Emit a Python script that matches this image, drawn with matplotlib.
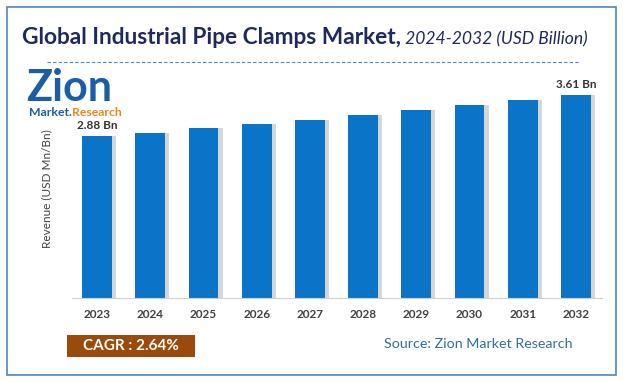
import matplotlib.pyplot as plt
from matplotlib.patches import Rectangle

# data
years = ["2023", "2024", "2025", "2026", "2027", "2028", "2029", "2030", "2031", "2032"]
revenue = [2.88, 2.93, 3.02, 3.09, 3.17, 3.25, 3.34, 3.43, 3.52, 3.61]
first_label = "2.88 Bn"
last_label = "3.61 Bn"
cagr_text = "CAGR : 2.64%"
source_text = "Source: Zion Market Research"

plt.rcParams['font.family'] = ['Lato', 'DejaVu Sans']

fig = plt.figure(figsize=(6.23, 3.82), dpi=100)
fig.patch.set_facecolor("white")

# outer border
fig.patches.append(Rectangle((7/623, 7/382), 609/623, 368/382, transform=fig.transFigure,
                             fill=False, edgecolor="#4a86c5", lw=1.2))

# title
t1 = fig.text(22/623, 1-37/382, "Global Industrial Pipe Clamps Market,", fontsize=16.3,
              fontweight="bold", color="#1f2a5c", ha="left", va="center")
fig.add_artist(plt.Annotation(" 2024-2032 (USD Billion)", xy=(1, 0), xycoords=t1,
                              fontsize=12.6, style="italic", color="#1f2a5c",
                              ha="left", va="bottom"))
fig.add_artist(plt.Line2D([47/623, 578/623], [1-62/382, 1-62/382], transform=fig.transFigure,
                          color="#4a86c5", lw=0.8, ls=(0, (3, 2))))

# logo (text approximation)
fig.text(26/623, 1-88/382, "Zion", fontsize=31, fontweight="bold", color="#1a5ea8",
         ha="left", va="center")
m = fig.text(29/623, 1-113/382, "Market.", fontsize=8.8, fontweight="bold", color="#1a5ea8",
             ha="left", va="center")
fig.add_artist(plt.Annotation("Research", xy=(1, 0), xycoords=m, fontsize=8.8,
                              fontweight="bold", color="#e08a1e", ha="left", va="bottom"))

ax = fig.add_axes([72/623, 1-298/382, 530/623, 218/382])
x = range(len(years))
# shadow bars
ax.bar([i + 0.08 for i in x], revenue, width=0.56, color="#8c8c8c", alpha=0.35, zorder=1)
ax.bar(x, revenue, width=0.56, color="#0a74c9", zorder=2)

ax.set_ylim(0, 3.88)
ax.set_xlim(-0.47, 9.49)
ax.set_xticks(list(x))
ax.set_xticklabels(years, fontsize=8.5, fontweight="bold", color="#404040")
ax.tick_params(axis="x", length=0, pad=8)
ax.set_yticks([])
for s in ["top", "right", "left"]:
    ax.spines[s].set_visible(False)
ax.spines["bottom"].set_color("#d0d0d0")
ax.set_ylabel("Revenue (USD Mn/Bn)", fontsize=8.5, color="#404040", labelpad=14)

ax.text(0, revenue[0] + 0.1, first_label, ha="center", va="bottom", fontsize=8.5,
        fontweight="bold", color="#333333")
ax.text(9, revenue[-1] + 0.1, last_label, ha="center", va="bottom", fontsize=8.5,
        fontweight="bold", color="#333333")

# CAGR box
fig.patches.append(Rectangle((67/623, 1-357/382), 128/623, 22/382, transform=fig.transFigure,
                             facecolor="#9a4a0b", edgecolor="none"))
fig.text(131/623, 1-346/382, cagr_text, fontsize=11, fontweight="bold", color="white",
         ha="center", va="center")
fig.text(478/623, 1-344/382, source_text, fontsize=10.3, color="#2e6da4",
         ha="center", va="center")

fig.savefig("out.png", dpi=100)
